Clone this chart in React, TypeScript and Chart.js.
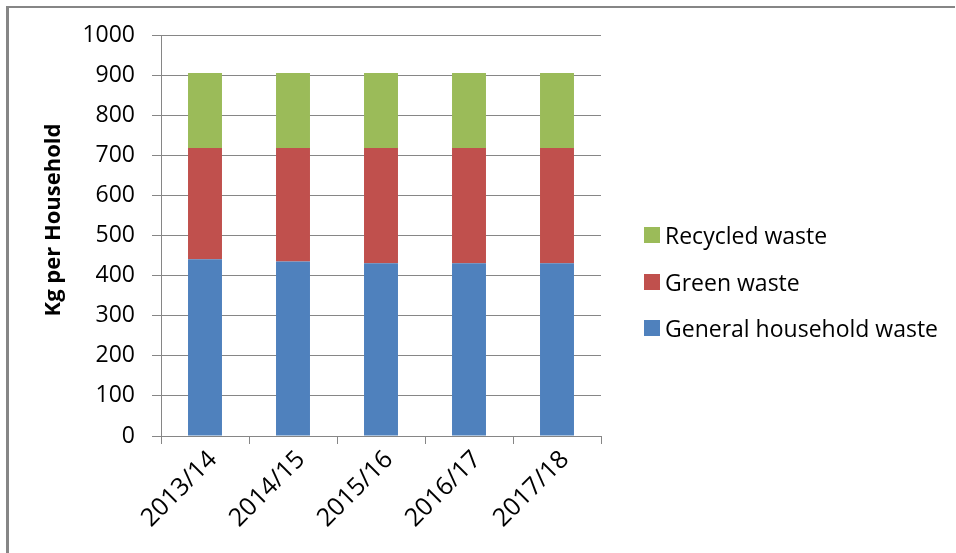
import { useEffect, useRef } from "react";
import { Chart, registerables } from "chart.js";
Chart.register(...registerables);

const categories = ["2013/14", "2014/15", "2015/16", "2016/17", "2017/18"];
const generalWaste = [441, 435, 431, 431, 431];
const greenWaste = [277, 283, 287, 287, 287];
const recycledWaste = [187, 187, 187, 187, 187];
const seriesLabels = ["General household waste", "Green waste", "Recycled waste"];
const seriesColors = ["#4F81BD", "#C0504D", "#9BBB59"];
const yAxisTitle = "Kg per Household";

const FONT = "'Open Sans', Lato, sans-serif";

const yTitlePlugin = {
  id: "yTitle",
  afterDraw(chart: any) {
    const ctx = chart.ctx;
    ctx.save();
    ctx.translate(54, 220);
    ctx.rotate(-Math.PI / 2);
    ctx.font = `bold 22px ${FONT}`;
    ctx.fillStyle = "#000";
    ctx.textAlign = "center";
    ctx.textBaseline = "middle";
    ctx.fillText(yAxisTitle, 0, 0);
    ctx.restore();
  },
};

export default function App() {
  const ref = useRef<HTMLCanvasElement>(null);
  useEffect(() => {
    const chart = new Chart(ref.current!, {
      type: "bar",
      data: {
        labels: categories,
        datasets: [
          { label: seriesLabels[0], data: generalWaste, backgroundColor: seriesColors[0] },
          { label: seriesLabels[1], data: greenWaste, backgroundColor: seriesColors[1] },
          { label: seriesLabels[2], data: recycledWaste, backgroundColor: seriesColors[2] },
        ],
      },
      plugins: [yTitlePlugin],
      options: {
        animation: false,
        responsive: false,
        layout: { padding: { left: 30, top: 35, right: 355, bottom: 17 } },
        datasets: { bar: { categoryPercentage: 1, barPercentage: 0.386 } },
        plugins: {
          legend: { display: false },
          tooltip: { enabled: false },
        },
        scales: {
          x: {
            stacked: true,
            grid: { drawOnChartArea: false, drawTicks: true, tickLength: 8, color: "#868686" },
            border: { color: "#868686", width: 1 },
            ticks: {
              minRotation: 45,
              maxRotation: 45,
              color: "#000",
              font: { family: FONT, size: 25 },
              padding: 1,
              labelOffset: 8,
            },
            afterFit: (s: any) => {
              s.height = 100;
            },
          },
          y: {
            stacked: true,
            min: 0,
            max: 1000,
            ticks: {
              stepSize: 100,
              color: "#000",
              font: { family: FONT, size: 23 },
              padding: 17,
              callback: (v: any) => String(v),
            },
            grid: { color: "#868686", tickLength: 9 },
            border: { color: "#868686", width: 1 },
            afterFit: (s: any) => {
              s.width = 131;
            },
          },
        },
      },
    });
    return () => chart.destroy();
  }, []);

  const legendOrder = [2, 1, 0];
  const legendY = [235, 282, 328];
  return (
    <div style={{ position: "fixed", left: 0, top: 0, width: 956, height: 553, background: "#fff", overflow: "hidden" }}>
      <div
        style={{
          position: "absolute",
          left: 6,
          top: 6,
          width: 949,
          height: 560,
          borderLeft: "3px solid #868686",
          borderTop: "2px solid #868686",
          boxSizing: "border-box",
        }}
      />
      <canvas ref={ref} width={956} height={553} style={{ position: "absolute", left: 0, top: 0 }} />
      {legendOrder.map((idx, i) => (
        <div
          key={idx}
          style={{
            position: "absolute",
            left: 644,
            top: legendY[i] - 15,
            height: 30,
            display: "flex",
            alignItems: "center",
            whiteSpace: "nowrap",
            fontFamily: FONT,
            fontSize: 23,
            color: "#000",
          }}
        >
          <span style={{ display: "inline-block", width: 16, height: 16, background: seriesColors[idx], marginRight: 5 }} />
          <span>{seriesLabels[idx]}</span>
        </div>
      ))}
    </div>
  );
}
